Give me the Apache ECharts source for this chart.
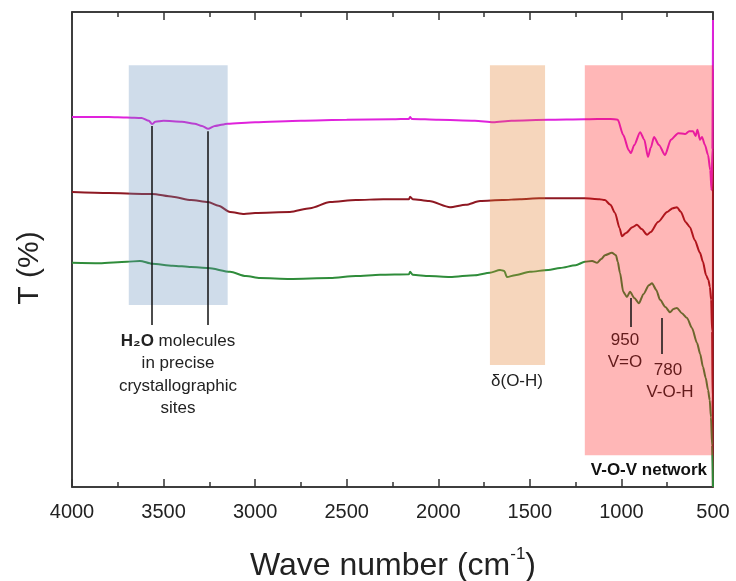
<!DOCTYPE html>
<html>
<head>
<meta charset="utf-8">
<script src="https://cdn.jsdelivr.net/npm/echarts@6/dist/echarts.min.js"></script>
<style>html,body{margin:0;padding:0;background:#fff}#c{width:736px;height:581px}</style>
</head>
<body>
<div id="c"></div>
<script>
// ---- data (wave number in cm-1, transmittance in arbitrary %) ----
var xTicks = [4000, 3500, 3000, 2500, 2000, 1500, 1000, 500];

var magentaWn = [4000,3800,3700,3620,3580,3563,3545,3500,3400,3330,3290,3257,3220,3150,3000,2750,2500,2250,2160,2154,2145,2000,1800,1700,1600,1400,1200,1060,1020,990,960,948,930,898,875,855,840,822,795,762,730,690,653,630,609,595,585,571,560,544,527,515,508,503,500];
var magentaT  = [77.9,77.9,77.8,77.7,77.1,76.4,76.9,77.1,76.9,76.5,76.0,75.4,76.0,76.5,76.8,77.1,77.3,77.4,77.5,77.9,77.5,77.3,77.1,76.8,77.1,77.3,77.4,77.5,77.3,74.1,70.9,70.3,72.0,74.7,73.1,69.5,71.4,73.7,72.0,69.9,73.1,74.5,74.3,74.9,74.9,73.9,75.2,73.1,73.7,72.0,69.9,66.7,62.5,71.2,98.3];

var redWn = [4000,3800,3600,3563,3450,3350,3257,3200,3137,3060,3000,2810,2700,2591,2450,2300,2160,2154,2140,2050,1936,1850,1772,1650,1554,1450,1335,1200,1120,1090,1060,1035,1010,997,975,940,915,890,860,840,800,750,720,697,675,650,626,600,571,555,538,525,517,510,505,502,501,500];
var redT  = [62.1,61.9,61.7,61.7,61.1,60.4,60.0,59.2,57.9,57.5,57.7,57.9,58.7,60.0,60.4,60.6,60.6,61.1,60.6,60.2,58.9,59.4,60.2,60.4,60.6,60.8,60.8,60.8,60.6,60.4,59.4,57.7,54.5,52.8,53.5,54.7,55.2,54.3,53.1,53.7,55.8,57.9,58.7,58.9,57.9,55.8,54.7,52.0,49.3,47.4,44.6,43.6,42.1,39.4,32.8,18.3,0,88];

var greenWn = [4000,3850,3700,3629,3563,3450,3350,3257,3137,3050,2974,2810,2591,2450,2318,2160,2154,2140,2050,1936,1800,1718,1663,1640,1625,1581,1500,1400,1335,1250,1200,1160,1133,1110,1090,1052,1030,1020,1008,990,970,953,930,904,880,850,833,810,789,760,735,715,697,670,642,615,587,570,555,540,527,518,511,505,500];
var greenT  = [47.2,47.1,47.4,47.6,47.0,46.6,46.3,46.1,45.3,44.4,44.0,43.8,44.0,44.4,44.7,44.8,45.3,44.7,44.4,44.2,44.6,45.1,45.7,45.5,44.2,44.6,45.3,45.7,46.1,46.7,47.4,47.6,47.2,48.0,48.8,49.3,48.8,47.4,45.1,41.1,40.0,41.1,39.8,38.7,40.6,42.5,42.9,41.5,39.4,37.9,36.8,37.5,37.7,36.6,35.6,33.5,30.3,28.0,25.3,23.0,20.4,18.3,14.7,8.8,0];

// shaded bands [from wn, to wn, bottom T, top T]
var bandBlue   = [3690, 3150, 38.3, 88.8];
var bandOrange = [1718, 1417, 25.7, 88.8];
var bandPink   = [1200, 500, 6.7, 88.8];

// annotation marker lines [wn, T from, T to]
var markers = [[3563, 76.0, 34.1], [3257, 74.9, 34.1], [950, 39.8, 33.7], [780, 35.6, 28.0]];

function pairs(xs, ys) { return xs.map(function (x, i) { return [x, ys[i]]; }); }

var chart = echarts.init(document.getElementById('c'), null, {renderer: 'canvas'});
var font = '"Liberation Sans", Arial, sans-serif';

function band(b, color) {
  return [{coord: [b[0], b[3]], itemStyle: {color: color, opacity: 0.3}}, {coord: [b[1], b[2]]}];
}

var tickStyle = {color: '#333', width: 1.5};
function lineSeries(name, xs, ys, color) {
  return {type: 'line', name: name, data: pairs(xs, ys), showSymbol: false, symbol: 'none',
    smooth: 0.25, smoothMonotone: 'x', lineStyle: {color: color, width: 2}, z: 3};
}
function label(x, y, text) {
  return {type: 'text', x: x, y: y, style: {text: text, font: '17px ' + font, fill: '#222', textAlign: 'center', textVerticalAlign: 'middle'}};
}

chart.setOption({
  animation: false,
  grid: {left: 72, right: 23, top: 12, bottom: 94, show: true, borderColor: '#333', borderWidth: 1.5, backgroundColor: 'transparent'},
  xAxis: [{
    type: 'value', inverse: true, min: 500, max: 4000, interval: 500,
    axisLine: {show: true, onZero: false, lineStyle: tickStyle},
    axisTick: {show: true, inside: true, length: 8, lineStyle: tickStyle},
    minorTick: {show: true, splitNumber: 2, length: 5, lineStyle: tickStyle},
    axisLabel: {show: true, margin: 15, fontSize: 20, color: '#222', fontFamily: font,
      formatter: function (v) { return xTicks.indexOf(v) >= 0 ? String(v) : ''; }},
    splitLine: {show: false}
  }, {
    type: 'value', inverse: true, min: 500, max: 4000, interval: 500, position: 'top',
    axisLine: {show: true, onZero: false, lineStyle: tickStyle},
    axisTick: {show: true, inside: true, length: 8, lineStyle: tickStyle},
    minorTick: {show: true, splitNumber: 2, length: 5, lineStyle: tickStyle},
    axisLabel: {show: false}, splitLine: {show: false}
  }],
  yAxis: {
    type: 'value', min: 0, max: 100,
    axisLine: {show: true, lineStyle: tickStyle},
    axisTick: {show: false}, axisLabel: {show: false}, splitLine: {show: false}
  },
  series: [
    lineSeries('red', redWn, redT, '#8E1822'),
    lineSeries('magenta', magentaWn, magentaT, '#E022DC'),
    lineSeries('green', greenWn, greenT, '#2F8C3A'),
    {type: 'line', name: 'bands', data: [], z: 5, silent: true,
      markArea: {silent: true, z: 6, data: [
        band(bandBlue, 'rgb(95,138,185)'),
        band(bandOrange, 'rgb(225,118,32)'),
        band(bandPink, 'rgb(255,18,18)')
      ]}},
    {type: 'line', name: 'markers', data: [], z: 7, silent: true,
      markLine: {silent: true, z: 8, symbol: 'none', label: {show: false},
        lineStyle: {color: '#111', width: 1.5, type: 'solid'},
        data: markers.map(function (m) { return [{coord: [m[0], m[1]]}, {coord: [m[0], m[2]]}]; })}}
  ],
  graphic: [
    {type: 'text', x: 393, y: 546, style: {
      text: '{a|Wave number (cm}{s|-1}{a|)}', textAlign: 'center', fill: '#222',
      rich: {a: {fontSize: 32, fontFamily: font, fill: '#222', lineHeight: 36, verticalAlign: 'bottom'},
             s: {fontSize: 17, fontFamily: font, fill: '#222', lineHeight: 36, verticalAlign: 'top', padding: [0, 0, 15, 0]}}}},
    {type: 'text', x: 30, y: 268, rotation: Math.PI / 2, style: {
      text: 'T (%)', font: '30px ' + font, fill: '#222', textAlign: 'center', textVerticalAlign: 'middle'}},
    {type: 'text', x: 178, y: 330, style: {
      text: '{b|H₂O}{n| molecules}\n{n|in precise}\n{n|crystallographic}\n{n|sites}',
      textAlign: 'center', fill: '#222',
      rich: {b: {fontSize: 17, fontWeight: 'bold', fontFamily: font, fill: '#222', lineHeight: 22.5, align: 'center'},
             n: {fontSize: 17, fontFamily: font, fill: '#222', lineHeight: 22.5, align: 'center'}}}},
    label(517, 381, 'δ(O-H)'),
    label(625, 340, '950'),
    label(625, 362, 'V=O'),
    label(668, 370, '780'),
    label(670, 392, 'V-O-H'),
    {type: 'text', x: 707, y: 470, style: {text: 'V-O-V network', font: 'bold 17px ' + font, fill: '#111', textAlign: 'right', textVerticalAlign: 'middle'}}
  ]
});
</script>
</body>
</html>
